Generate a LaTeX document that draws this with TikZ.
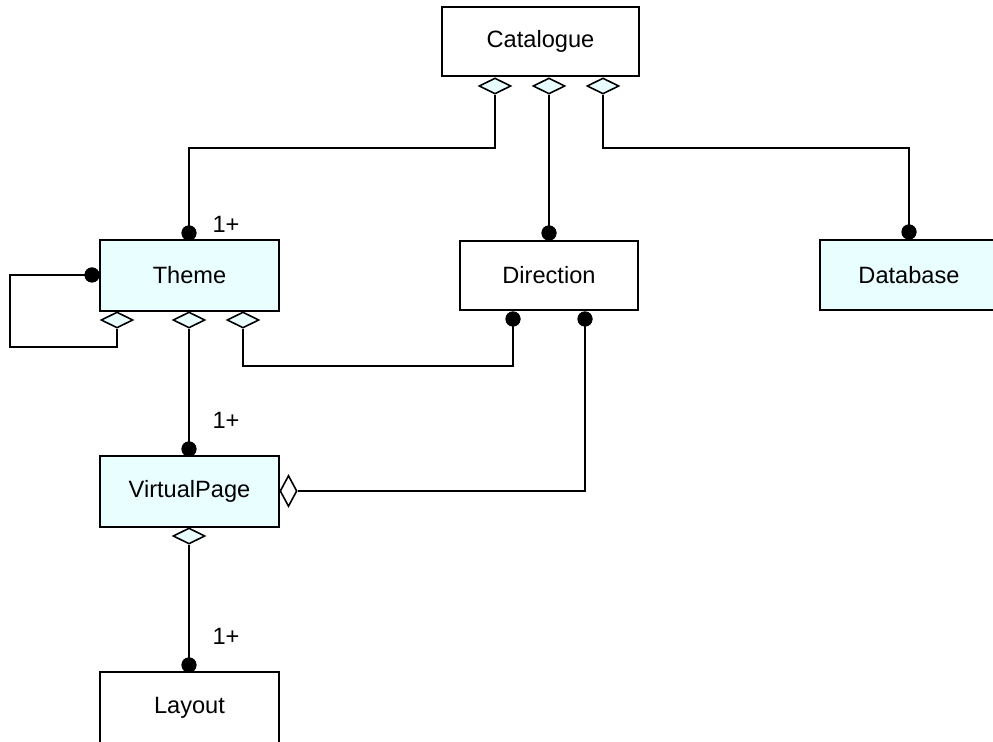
\documentclass[tikz,border=0pt]{standalone}
\usepackage{fontspec}
\setmainfont{Liberation Sans}
\usetikzlibrary{shapes.geometric}
\definecolor{paleteal}{RGB}{233,254,254}
\begin{document}
\begin{tikzpicture}[x=0.5pt,y=-0.5pt,
  every node/.style={font=\fontsize{11.8}{14}\selectfont},
  classbox/.style={draw=black, line width=1pt, inner sep=0pt},
  plainbox/.style={classbox, fill=white},
  tintbox/.style={classbox, fill=paleteal},
  aggr/.style={diamond, draw=black, line width=0.8pt, fill=paleteal, inner sep=0pt,
    minimum width=16pt, minimum height=8pt},
  aggrv/.style={diamond, draw=black, line width=0.8pt, fill=white, inner sep=0pt,
    minimum width=8.5pt, minimum height=15.5pt},
  ball/.style={circle, fill=black, inner sep=0pt, minimum size=7.5pt},
  link/.style={draw=black, line width=0.9pt},
  mult/.style={inner sep=0pt}]
\useasboundingbox (0,0) rectangle (993,742);

% classes
\node[plainbox, minimum width=98.5pt, minimum height=34.5pt] (cat) at (540.5,41.5) {Catalogue};
\node[tintbox, minimum width=89.5pt, minimum height=35.5pt] (theme) at (189.5,275.5) {Theme};
\node[plainbox, minimum width=89pt, minimum height=34.5pt] (dir) at (549,275.5) {Direction};
\node[tintbox, minimum width=89pt, minimum height=35pt] (db) at (909,275) {Database};
\node[tintbox, minimum width=89.5pt, minimum height=35.5pt] (vp) at (189.5,491.5) {VirtualPage};
\node[plainbox, minimum width=89.5pt, minimum height=35.5pt] (lay) at (189.5,707.5) {Layout};

% aggregation diamonds
\node[aggr] (c1) at (495,86) {};
\node[aggr] (c2) at (549,86) {};
\node[aggr] (c3) at (603,86) {};
\node[aggr] (t1) at (117,320) {};
\node[aggr] (t2) at (189,320) {};
\node[aggr] (t3) at (243,320) {};
\node[aggr] (v1) at (189,536) {};
\node[aggrv] (v2) at (288.5,491) {};

% association ends
\node[ball] (thTop) at (189,233) {};
\node[ball] (thLeft) at (92,275) {};
\node[ball] (dirTop) at (549,233) {};
\node[ball] (dirL) at (513,319) {};
\node[ball] (dirR) at (585,319) {};
\node[ball] (dbTop) at (909,232) {};
\node[ball] (vpTop) at (189,449) {};
\node[ball] (layTop) at (189,665) {};

% bends
\coordinate (k1) at (495,148);
\coordinate (k3) at (603,148);
\coordinate (k4) at (10,347);
\coordinate (k6) at (243,366);

% connectors
\draw[link] (c1.south) -- (k1) -| (thTop.center);
\draw[link] (c2.south) -- (dirTop.center);
\draw[link] (c3.south) -- (k3) -| (dbTop.center);
\draw[link] (thLeft.center) -| (k4) -| (t1.south);
\draw[link] (t2.south) -- (vpTop.center);
\draw[link] (t3.south) -- (k6) -| (dirL.center);
\draw[link] (dirR.center) |- (v2.east);
\draw[link] (v1.south) -- (layTop.center);

% redraw ends on top of the lines
\node[ball] at (thTop) {};
\node[ball] at (thLeft) {};
\node[ball] at (dirTop) {};
\node[ball] at (dirL) {};
\node[ball] at (dirR) {};
\node[ball] at (dbTop) {};
\node[ball] at (vpTop) {};
\node[ball] at (layTop) {};

% multiplicities
\node[mult] (m1) at (226,224) {1+};
\node[mult] (m2) at (226,420) {1+};
\node[mult] (m3) at (226,636) {1+};
\end{tikzpicture}
\end{document}
